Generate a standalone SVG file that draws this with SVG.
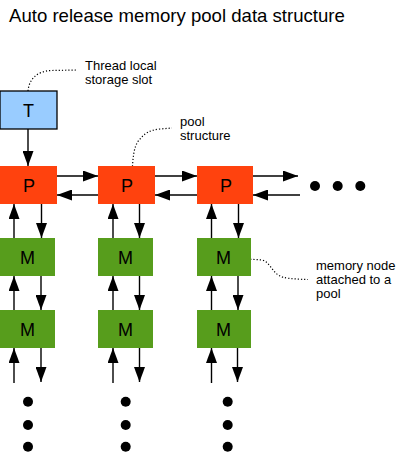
<svg xmlns="http://www.w3.org/2000/svg" width="417" height="453" viewBox="0 0 417 453">
<style>
.t{font-family:"Liberation Sans",Arial,sans-serif;fill:#000}
.title{font-size:18.6px}
.lbl{font-size:13px}
.nl{font-size:18px;text-anchor:middle}
.p{fill:#ff420e}
.m{fill:#579d1c}
.tb{fill:#99ccff;stroke:#000;stroke-width:1.3}
.c{stroke:#000;stroke-width:1.4;fill:none;marker-end:url(#ah)}
.lead{stroke:#000;stroke-width:1.2;fill:none;stroke-dasharray:1.2 2}
.dot{fill:#000}
</style>
<defs>
<marker id="ah" markerUnits="userSpaceOnUse" markerWidth="15" markerHeight="11" refX="15" refY="5.5" orient="auto">
<path d="M0,0 L15,5.5 L0,11 z" fill="#000"/>
</marker>
</defs>
<text class="t title" x="9" y="22">Auto release memory pool data structure</text>

<g id="connectors">
<line class="c" x1="28" y1="129" x2="28" y2="166"/>
<line class="c" x1="57" y1="176" x2="98" y2="176"/>
<line class="c" x1="98" y1="195" x2="57" y2="195"/>
<line class="c" x1="155" y1="176" x2="197" y2="176"/>
<line class="c" x1="197" y1="195" x2="155" y2="195"/>
<line class="c" x1="253" y1="176" x2="298" y2="176"/>
<line class="c" x1="300" y1="195" x2="253" y2="195"/>
<line class="c" x1="14" y1="238" x2="14" y2="204"/>
<line class="c" x1="41.5" y1="204" x2="41.5" y2="238"/>
<line class="c" x1="113" y1="238" x2="113" y2="204"/>
<line class="c" x1="139.5" y1="204" x2="139.5" y2="238"/>
<line class="c" x1="211.5" y1="238" x2="211.5" y2="204"/>
<line class="c" x1="238.5" y1="204" x2="238.5" y2="238"/>
<line class="c" x1="14" y1="310" x2="14" y2="276"/>
<line class="c" x1="41" y1="276" x2="41" y2="310"/>
<line class="c" x1="113" y1="310" x2="113" y2="276"/>
<line class="c" x1="139.5" y1="276" x2="139.5" y2="310"/>
<line class="c" x1="211.5" y1="310" x2="211.5" y2="276"/>
<line class="c" x1="238" y1="276" x2="238" y2="310"/>
<line class="c" x1="14" y1="383" x2="14" y2="348"/>
<line class="c" x1="41" y1="348" x2="41" y2="382"/>
<line class="c" x1="113" y1="383" x2="113" y2="348"/>
<line class="c" x1="139.5" y1="348" x2="139.5" y2="382"/>
<line class="c" x1="211.5" y1="383" x2="211.5" y2="348"/>
<line class="c" x1="237.5" y1="348" x2="237.5" y2="382"/>
<path class="lead" d="M28,91 C29,80 36,71 52,70.5 L76,70"/>
<path class="lead" d="M132,173 C133,160 133,146 140,139 C145,133 150,130 160,129 L172,128"/>
<path class="lead" d="M247,259 L262,260 C270,262 272,272 280,276 C284,278 290,279 308,279.5"/>
</g>

<g id="node-T"><rect class="tb" x="0" y="91" width="57" height="38"/><text class="t nl" x="28.5" y="117">T</text></g>
<g id="node-P1"><rect class="p" x="0" y="166" width="57" height="38"/><text class="t nl" x="29" y="192">P</text></g>
<g id="node-P2"><rect class="p" x="98" y="166" width="57" height="38"/><text class="t nl" x="127" y="192">P</text></g>
<g id="node-P3"><rect class="p" x="197" y="166" width="56" height="38"/><text class="t nl" x="226" y="192">P</text></g>
<g id="node-M1a"><rect class="m" x="0" y="238" width="55" height="38"/><text class="t nl" x="27.5" y="264">M</text></g>
<g id="node-M2a"><rect class="m" x="98" y="238" width="55" height="38"/><text class="t nl" x="125.5" y="264">M</text></g>
<g id="node-M3a"><rect class="m" x="197" y="238" width="54" height="38"/><text class="t nl" x="223.5" y="264">M</text></g>
<g id="node-M1b"><rect class="m" x="0" y="310" width="55" height="38"/><text class="t nl" x="27.5" y="336">M</text></g>
<g id="node-M2b"><rect class="m" x="98" y="310" width="55" height="38"/><text class="t nl" x="125.5" y="336">M</text></g>
<g id="node-M3b"><rect class="m" x="197" y="310" width="54" height="38"/><text class="t nl" x="223.5" y="336">M</text></g>

<g id="ellipsis-right"><circle class="dot" cx="315" cy="186" r="5"/><circle class="dot" cx="337.7" cy="186" r="5"/><circle class="dot" cx="360.3" cy="186" r="5"/></g>
<g id="ellipsis-col1"><circle class="dot" cx="28" cy="401.7" r="5"/><circle class="dot" cx="28" cy="425" r="5"/><circle class="dot" cx="28" cy="446.7" r="5"/></g>
<g id="ellipsis-col2"><circle class="dot" cx="125.7" cy="401.7" r="5"/><circle class="dot" cx="125.7" cy="425" r="5"/><circle class="dot" cx="125.7" cy="446.7" r="5"/></g>
<g id="ellipsis-col3"><circle class="dot" cx="227.7" cy="401.7" r="5"/><circle class="dot" cx="227.7" cy="425" r="5"/><circle class="dot" cx="227.7" cy="446.7" r="5"/></g>

<g id="label-tls"><text class="t lbl" x="85" y="70">Thread local</text><text class="t lbl" x="85" y="84">storage slot</text></g>
<g id="label-pool"><text class="t lbl" x="180" y="126">pool</text><text class="t lbl" x="180" y="140">structure</text></g>
<g id="label-mem"><text class="t lbl" x="316" y="270">memory node</text><text class="t lbl" x="316" y="284">attached to a</text><text class="t lbl" x="316" y="298">pool</text></g>
</svg>
